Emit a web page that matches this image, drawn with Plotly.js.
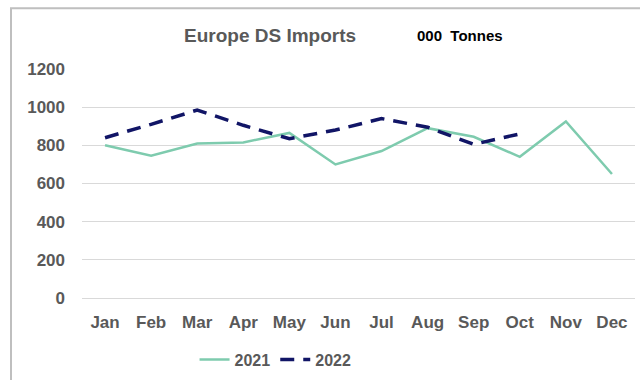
<!DOCTYPE html>
<html>
<head>
<meta charset="utf-8">
<script src="https://cdn.plot.ly/plotly-3.0.1.min.js"></script>
<style>html,body{margin:0;padding:0;background:#fff;}#chart{width:640px;height:380px;}</style>
</head>
<body>
<div id="chart"></div>
<script>
const months = ["Jan","Feb","Mar","Apr","May","Jun","Jul","Aug","Sep","Oct","Nov","Dec"];
const imports2021 = [800, 745, 810, 815, 865, 700, 770, 890, 845, 740, 925, 650];
const imports2022 = [840, 910, 985, 905, 835, 880, 940, 895, 805, 860];
const yTicks = [0, 200, 400, 600, 800, 1000, 1200];

const gray = "#595959";
const font = "Liberation Sans, Arial, sans-serif";

const traces = [
  {
    x: months, y: imports2021, name: "2021", type: "scatter", mode: "lines",
    line: {color: "#7ecbae", width: 2.5}
  },
  {
    x: months.slice(0, imports2022.length), y: imports2022, name: "2022", type: "scatter", mode: "lines",
    line: {color: "#111566", width: 3.5, dash: "14px,9px"}
  }
];

const layout = {
  width: 640, height: 380,
  margin: {l: 82, r: 5, t: 69, b: 81},
  paper_bgcolor: "#fff", plot_bgcolor: "#fff",
  showlegend: true,
  legend: {
    orientation: "h", x: 0.35, xanchor: "center", y: -0.19, yanchor: "top",
    font: {family: font, size: 16, color: gray, weight: "bold"},
    itemwidth: 30, tracegroupgap: 0
  },
  xaxis: {
    type: "category", categoryarray: months, range: [-0.5, 11.5],
    showgrid: false, showline: false, zeroline: false,
    ticks: "", ticklen: 0, ticklabelstandoff: 12,
    tickfont: {family: font, size: 17, color: gray, weight: "bold"},
    fixedrange: true
  },
  yaxis: {
    range: [0, 1200], tickvals: yTicks, ticktext: yTicks.map(String),
    showgrid: true, gridcolor: "#d9d9d9", gridwidth: 1,
    zeroline: true, zerolinecolor: "#d9d9d9", zerolinewidth: 1,
    showline: false, ticks: "", ticklabelstandoff: 16,
    tickfont: {family: font, size: 17, color: gray, weight: "bold"},
    fixedrange: true
  },
  annotations: [
    {
      text: "Europe DS Imports", xref: "paper", yref: "paper",
      x: (270 - 82) / 553, y: (299 - 35) / 230, xanchor: "center", yanchor: "middle",
      showarrow: false, font: {family: font, size: 19, color: gray, weight: "bold"}
    },
    {
      text: "000  Tonnes", xref: "paper", yref: "paper",
      x: (460 - 82) / 553, y: (299 - 35) / 230, xanchor: "center", yanchor: "middle",
      showarrow: false, font: {family: font, size: 15, color: "#000", weight: "bold"}
    }
  ],
  shapes: [
    {
      type: "rect", xref: "paper", yref: "paper",
      x0: (11 - 82) / 553, x1: 1.2, y0: -0.5, y1: (299 - 8) / 230,
      line: {color: "#bfbfbf", width: 2}, fillcolor: "rgba(0,0,0,0)", layer: "below"
    }
  ]
};

Plotly.newPlot("chart", traces, layout, {displayModeBar: false, staticPlot: true});
</script>
</body>
</html>
